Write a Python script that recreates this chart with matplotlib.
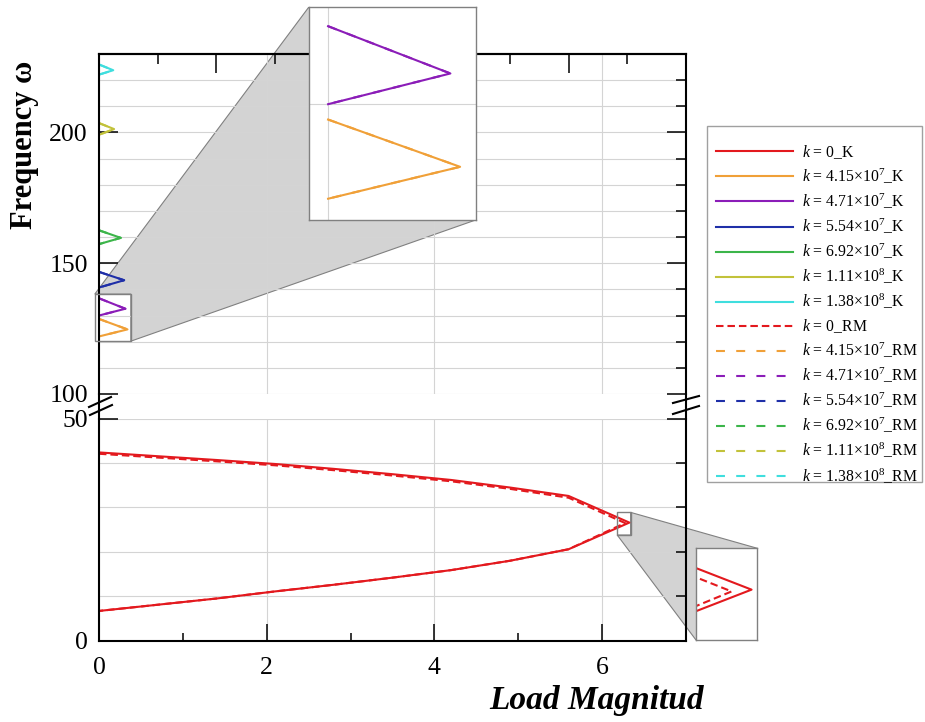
import numpy as np
import matplotlib.pyplot as plt
from matplotlib.lines import Line2D
from matplotlib.patches import Polygon, Rectangle

plt.rcParams['font.family'] = ['Liberation Serif', 'DejaVu Serif']
plt.rcParams['mathtext.fontset'] = 'custom'
plt.rcParams['mathtext.rm'] = 'Liberation Serif'
plt.rcParams['mathtext.it'] = 'Liberation Serif:italic'

# ---- datos ----
# k = 0 : rama superior -> punta -> rama inferior
load_k0_K = [0, 0.7, 1.4, 2.1, 2.8, 3.5, 4.2, 4.9, 5.6, 6.325,
             5.6, 4.9, 4.2, 3.5, 2.8, 2.1, 1.4, 0.7, 0]
freq_k0_K = [42.4, 41.55, 40.7, 39.8, 38.7, 37.5, 36.2, 34.5, 32.6, 26.6,
             20.6, 18.0, 15.9, 14.2, 12.6, 11.1, 9.5, 8.1, 6.7]
load_k0_RM = [0, 0.7, 1.4, 2.1, 2.8, 3.5, 4.2, 4.9, 5.6, 6.273,
              5.6, 4.9, 4.2, 3.5, 2.8, 2.1, 1.4, 0.7, 0]
freq_k0_RM = [42.1, 41.25, 40.4, 39.5, 38.4, 37.2, 35.9, 34.2, 32.2, 26.5,
              20.6, 18.0, 15.9, 14.2, 12.6, 11.1, 9.5, 8.1, 6.7]

# k > 0 : modos altos (cerca de carga 0)
k_names = ["4.15×10$^7$", "4.71×10$^7$", "5.54×10$^7$",
           "6.92×10$^7$", "1.11×10$^8$", "1.38×10$^8$"]
tip_load = [0.34, 0.315, 0.30, 0.26, 0.18, 0.17]
freq_top = [128.7, 136.6, 146.7, 162.6, 203.6, 226.0]
freq_tip = [124.7, 132.6, 143.5, 159.7, 201.3, 223.8]
freq_bot = [122.0, 130.0, 140.7, 157.3, 199.1, 222.1]

colors = ['#e3191e', '#f0a038', '#8b1db8', '#1f2fa8', '#3cb54a', '#c2c23a', '#3fdede']

W, H = 925, 722
fig = plt.figure(figsize=(W / 100, H / 100), dpi=100)

ax_top = fig.add_axes([0.107, 0.4543, 0.6346, 0.4709])
ax_bot = fig.add_axes([0.107, 0.1126, 0.6346, 0.3075])
ins1 = fig.add_axes([0.3337, 0.6953, 0.1805, 0.2946], zorder=5)
ins2 = fig.add_axes([0.7524, 0.1136, 0.0663, 0.127], zorder=5)

lw = 1.5
dash_red = (3.6, 1.9)
dash_other = (4.3, 5.4)

for ax in [ax_top, ax_bot, ins1, ins2]:
    ax.plot(load_k0_K, freq_k0_K, color=colors[0], lw=lw)
    for i in range(6):
        ax.plot([0, tip_load[i], 0], [freq_top[i], freq_tip[i], freq_bot[i]],
                color=colors[i + 1], lw=lw)
    ax.plot(load_k0_RM, freq_k0_RM, color=colors[0], lw=lw, dashes=dash_red)
    for i in range(6):
        ax.plot([0, tip_load[i], 0], [freq_top[i], freq_tip[i], freq_bot[i]],
                color=colors[i + 1], lw=lw, dashes=dash_other)

gcol = '#d4d4d4'
tsize = 18.5

# panel superior
ax_top.set_xticks([0, 2, 4, 6])
ax_top.set_yticks([100, 150, 200])
ax_top.set_yticks(np.arange(110, 230, 10), minor=True)
ax_top.set_xlim(0, 7)
ax_top.set_ylim(100, 230)
ax_top.patch.set_facecolor('none')
ax_top.tick_params(axis='x', which='both', length=0, labelbottom=False)
ax_top.tick_params(axis='y', which='major', direction='in', left=True, right=True,
                   length=14, width=1.1, labelsize=tsize, pad=8)
ax_top.tick_params(axis='y', which='minor', direction='in', left=False, right=True,
                   length=7, width=1.1)
ax_top.grid(True, which='major', axis='x', color=gcol, lw=0.8)
ax_top.grid(True, which='both', axis='y', color=gcol, lw=0.8)
ax_top.spines['bottom'].set_visible(False)
for s in ['left', 'right', 'top']:
    ax_top.spines[s].set_linewidth(1.5)

sec = ax_top.secondary_xaxis('top')
sec.set_xticks([1.4, 2.8, 4.2, 5.6])
sec.set_xticks([0.7, 2.1, 3.5, 4.9, 6.3], minor=True)
sec.tick_params(which='major', direction='in', length=14, width=1.1, labeltop=False)
sec.tick_params(which='minor', direction='in', length=7, width=1.1)
sec.spines['top'].set_linewidth(1.5)

# panel inferior
ax_bot.set_xticks([0, 2, 4, 6])
ax_bot.set_xticks([1, 3, 5], minor=True)
ax_bot.set_yticks([0, 50])
ax_bot.set_yticks([10, 20, 30, 40], minor=True)
ax_bot.set_xlim(0, 7)
ax_bot.set_ylim(0, 50)
ax_bot.patch.set_facecolor('none')
ax_bot.tick_params(axis='x', which='major', direction='in', length=12, width=1.1,
                   labelsize=tsize, pad=12)
ax_bot.tick_params(axis='x', which='minor', direction='in', length=6, width=1.1)
ax_bot.tick_params(axis='y', which='major', direction='in', left=True, right=True,
                   length=14, width=1.1, labelsize=tsize, pad=8)
ax_bot.tick_params(axis='y', which='minor', direction='in', left=False, right=True,
                   length=7, width=1.1)
ax_bot.grid(True, which='major', axis='x', color=gcol, lw=0.8)
ax_bot.grid(True, which='both', axis='y', color=gcol, lw=0.8)
ax_bot.spines['top'].set_visible(False)
for s in ['left', 'right', 'bottom']:
    ax_bot.spines[s].set_linewidth(1.5)

# insets (ticks primero, limites despues)
for ins in [ins1, ins2]:
    ins.set_xticks([0, 2, 4, 6])
    ins.set_yticks(np.arange(0, 240, 10))
    ins.tick_params(which='both', length=0, labelbottom=False, labelleft=False)
    ins.grid(True, color=gcol, lw=0.8)
    for s in ins.spines.values():
        s.set_edgecolor('#808080')
        s.set_linewidth(1.0)
ins1.set_xlim(-0.05, 0.38)
ins1.set_ylim(120.2, 138.2)
ins2.set_xlim(6.18, 6.34)
ins2.set_ylim(23.8, 28.9)

# zonas de zoom y conectores grises
to_fig = fig.transFigure.inverted()


def fpt(ax, x, y):
    return to_fig.transform(ax.transData.transform((x, y)))


def zoom_link(ax, ins, upper_right):
    x0, x1 = ins.get_xlim()
    y0, y1 = ins.get_ylim()
    ax.add_patch(Rectangle((x0, y0), x1 - x0, y1 - y0, fill=False,
                           edgecolor='#808080', lw=1.0, zorder=4, clip_on=False))
    b = ins.get_position()
    if upper_right:
        pts = [fpt(ax, x0, y1), (b.x0, b.y1), (b.x1, b.y0),
               fpt(ax, x1, y0), fpt(ax, x1, y1)]
    else:
        pts = [fpt(ax, x1, y1), (b.x1, b.y1), (b.x0, b.y0),
               fpt(ax, x0, y0), fpt(ax, x1, y0)]
    fig.add_artist(Polygon(pts, closed=True, transform=fig.transFigure,
                           facecolor='#d3d3d3', edgecolor='#808080', lw=0.8,
                           zorder=-1))


zoom_link(ax_top, ins1, True)
zoom_link(ax_bot, ins2, False)

# eje roto
y_lo = 0.1126 + 0.3075
y_hi = 0.4543
for xs in [0.107, 0.107 + 0.6346]:
    fig.add_artist(Line2D([xs, xs], [y_lo, y_hi], color='black', lw=1.5))
for (xa, ya, xb, yb) in [(89, 407, 111, 397), (90, 415, 112, 405),
                         (673, 403, 699, 396), (673, 414, 699, 406)]:
    fig.add_artist(Line2D([xa / W, xb / W], [1 - ya / H, 1 - yb / H],
                          color='black', lw=1.5))

# textos de ejes
fig.text(25 / W, 1 - 145 / H, 'Frequency ω', rotation=90, ha='center',
         va='center', fontsize=22, fontweight='bold')
fig.text(597 / W, 1 - 700 / H, 'Load Magnitud', ha='center', va='center',
         fontsize=24, fontweight='bold', fontstyle='italic')

# leyenda
handles, labels = [], []
names = ["0"] + k_names
for suf, style in [('K', None), ('RM', 'dash')]:
    for i, nm in enumerate(names):
        if style is None:
            h = Line2D([], [], color=colors[i], lw=lw)
        else:
            h = Line2D([], [], color=colors[i], lw=lw,
                       dashes=dash_red if i == 0 else dash_other)
        handles.append(h)
        labels.append(r"$k$ = " + nm + "_" + suf)

fig.legend(handles, labels, loc='upper left',
           bbox_to_anchor=(716 / W, 1 - 143 / H),
           fontsize=11.3, handlelength=4.9, handletextpad=0.6, labelspacing=0.385,
           borderpad=0, borderaxespad=0, frameon=False)
fig.add_artist(Rectangle((707 / W, 1 - 482 / H), 215 / W, 356 / H,
                         transform=fig.transFigure, fill=False,
                         edgecolor='#a0a0a0', lw=1.0))

fig.savefig('out.png', dpi=100)
